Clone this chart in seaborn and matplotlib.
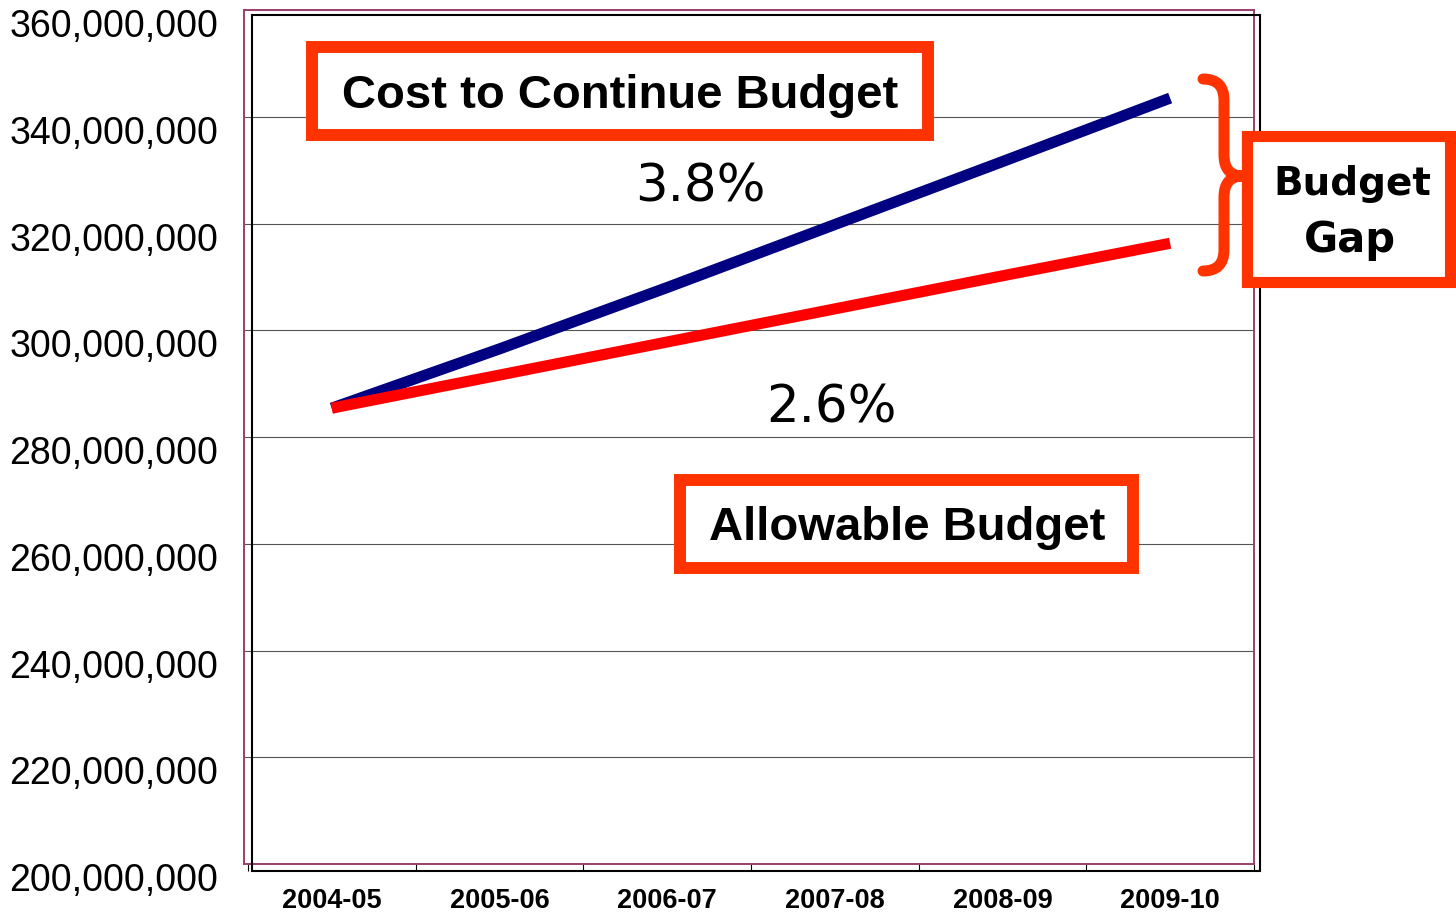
import matplotlib
matplotlib.use("Agg")
import matplotlib.pyplot as plt
import matplotlib.transforms as mtransforms
from matplotlib.patches import Rectangle, PathPatch
from matplotlib.path import Path
import pandas as pd
import seaborn as sns

# data (millions of dollars)
years = ["2004-05", "2005-06", "2006-07", "2007-08", "2008-09", "2009-10"]
cost_to_continue = [285.4, 296.5, 308.0, 319.8, 331.6, 343.5]
allowable = [285.4, 291.6, 297.8, 304.0, 310.2, 316.3]
yticks = [200, 220, 240, 260, 280, 300, 320, 340, 360]

W, H = 1456, 913
ORANGE = "#ff3300"

sns.set_style("white")
plt.rcParams["font.family"] = ["Liberation Sans", "DejaVu Sans"]
plt.rcParams["text.color"] = "black"
plt.rcParams["xtick.color"] = "black"
plt.rcParams["ytick.color"] = "black"

fig = plt.figure(figsize=(W / 100, H / 100), dpi=100)


def fx(px):
    return px / W


def fy(py):
    return 1 - py / H


ax = fig.add_axes([fx(244), fy(864), fx(1254) - fx(244), (864 - 10) / H])

df = pd.DataFrame({
    "x": list(range(len(years))) * 2,
    "value": [v * 1e6 for v in cost_to_continue + allowable],
    "series": ["Cost to Continue Budget"] * len(years) + ["Allowable Budget"] * len(years),
})
sns.lineplot(data=df, x="x", y="value", hue="series",
             palette={"Cost to Continue Budget": "#000080", "Allowable Budget": "#ff0000"},
             linewidth=8, legend=False, ax=ax, solid_capstyle="butt")

ax.set_xlim(-0.523, 5.482)
ax.set_ylim(200e6, 360e6)
ax.set_xlabel("")
ax.set_ylabel("")

# y axis
ax.set_yticks([v * 1e6 for v in yticks])
ax.set_yticklabels([f"{v * 1000000:,}" for v in yticks], fontsize=27)
ax.tick_params(axis="y", length=0, pad=18.7)
ax.yaxis.grid(True, color="#555555", linewidth=0.8)
ax.xaxis.grid(False)
shift = mtransforms.ScaledTranslation(0, -13 / 100, fig.dpi_scale_trans)
for lab in ax.get_yticklabels():
    lab.set_transform(lab.get_transform() + shift)

# x axis
ax.set_xticks(range(len(years)))
ax.set_xticklabels(years, fontsize=19.5, fontweight="bold")
ax.set_xticks([i - 0.5 for i in range(len(years) + 1)], minor=True)
ax.tick_params(axis="x", which="major", length=0, pad=17)
ax.tick_params(axis="x", which="minor", length=5, width=0.8, color="black", direction="out", bottom=True)

for sp in ax.spines.values():
    sp.set_color("#9c3f6e")
    sp.set_linewidth(1.4)

# outer black frame
fig.add_artist(Rectangle((fx(252), fy(871)), fx(1260) - fx(252), (871 - 15) / H,
                         fill=False, ec="black", lw=1.5, transform=fig.transFigure, zorder=3))

# label boxes
def box(x0, y0, x1, y1, lw):
    fig.add_artist(Rectangle((fx(x0), fy(y1)), fx(x1) - fx(x0), (y1 - y0) / H,
                             fc="white", ec=ORANGE, lw=lw, joinstyle="miter",
                             transform=fig.transFigure, zorder=4))

box(312, 47, 928, 135, 8.6)
box(680, 480, 1133, 568, 8.6)
box(1247, 136, 1450, 282, 8.0)

fig.text(fx(620), fy(96), "Cost to Continue Budget", fontsize=34, fontweight="bold",
         ha="center", va="center", zorder=5)
fig.text(fx(907), fy(528), "Allowable Budget", fontsize=34, fontweight="bold",
         ha="center", va="center", zorder=5)
fig.text(fx(1352), fy(184), "Budget", fontsize=28, fontweight="bold", family="DejaVu Sans",
         ha="center", va="center", zorder=5)
fig.text(fx(1350), fy(240), "Gap", fontsize=30, fontweight="bold", family="DejaVu Sans",
         ha="center", va="center", zorder=5)

fig.text(fx(700), fy(187), "3.8%", fontsize=37, family="DejaVu Sans", ha="center", va="center")
fig.text(fx(832), fy(408), "2.6%", fontsize=37, family="DejaVu Sans", ha="center", va="center")

# curly brace for the gap
pts = [(1203, 79), (1224, 79), (1224, 100), (1224, 155), (1224, 176), (1243, 176),
       (1224, 176), (1224, 197), (1224, 250), (1224, 271), (1203, 271)]
codes = [Path.MOVETO, Path.CURVE3, Path.CURVE3, Path.LINETO, Path.CURVE3, Path.CURVE3,
         Path.CURVE3, Path.CURVE3, Path.LINETO, Path.CURVE3, Path.CURVE3]
brace = Path([(fx(x), fy(y)) for x, y in pts], codes)
fig.add_artist(PathPatch(brace, fill=False, ec=ORANGE, lw=7.9, capstyle="round",
                         transform=fig.transFigure, zorder=4))

fig.savefig("out.png", dpi=100)
